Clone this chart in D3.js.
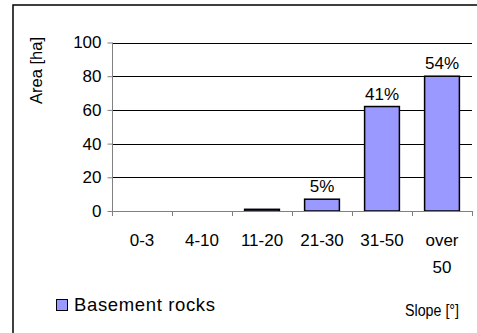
<!DOCTYPE html>
<html>
<head>
<meta charset="utf-8">
<script src="https://cdn.jsdelivr.net/npm/d3@7"></script>
<style>
html,body{margin:0;padding:0;background:#fff;}
svg{display:block;}
text{font-family:"Liberation Sans",Arial,sans-serif;fill:#000;}
</style>
</head>
<body>
<svg id="chart" width="477" height="333"></svg>
<script>
const categories = ["0-3", "4-10", "11-20", "21-30", "31-50", "over 50"];
const values = [0, 0, 1, 7, 62, 80];
const pctLabels = ["", "", "", "5%", "41%", "54%"];
const yTicks = [0, 20, 40, 60, 80, 100];
const seriesName = "Basement rocks";
const xTitle = "Slope [°]";
const yTitle = "Area [ha]";

const svg = d3.select("#chart");
const W = 477, H = 333;
const plot = {left: 112, right: 472, top: 42.5, bottom: 211};

// outer border
svg.append("rect").attr("x", 13).attr("y", 5).attr("width", W + 10).attr("height", H + 10)
  .attr("fill", "none").attr("stroke", "#000").attr("stroke-width", 1.5);

const x = d3.scaleBand().domain(categories).range([plot.left, plot.right]).paddingInner(0.42).paddingOuter(0.21);
const xEdge = d3.scaleBand().domain(categories).range([plot.left, plot.right]);
const y = d3.scaleLinear().domain([0, 100]).range([plot.bottom, plot.top]);

// gridlines
svg.append("g").selectAll("line").data(yTicks.filter(d => d > 0)).join("line")
  .attr("x1", plot.left).attr("x2", plot.right)
  .attr("y1", d => Math.round(y(d)) + 0.5).attr("y2", d => Math.round(y(d)) + 0.5)
  .attr("stroke", "#000").attr("stroke-width", 1);

// bars
svg.append("g").selectAll("rect").data(values).join("rect")
  .attr("x", (d, i) => x(categories[i]))
  .attr("width", x.bandwidth())
  .attr("y", d => y(d))
  .attr("height", d => plot.bottom - y(d))
  .attr("fill", "#9999FF").attr("stroke", "#000").attr("stroke-width", 1.5)
  .attr("display", d => d > 0 ? null : "none");

// y axis
const yAxis = d3.axisLeft(y).tickValues(yTicks).tickSize(5).tickPadding(6);
const gy = svg.append("g").attr("transform", `translate(${plot.left + 0.5},0)`).call(yAxis);
gy.select(".domain").attr("stroke", "#808080").attr("d", `M0,${plot.top}V${plot.bottom}`);
gy.selectAll(".tick line").attr("stroke", "#808080");
gy.selectAll(".tick text").attr("font-size", 17).attr("font-family", "Liberation Sans, Arial, sans-serif").attr("fill", "#000");

// x axis (ticks at band edges)
const edges = categories.map(c => xEdge(c)).concat([plot.right]);
const gx = svg.append("g");
gx.append("line").attr("x1", plot.left).attr("x2", plot.right)
  .attr("y1", plot.bottom + 0.5).attr("y2", plot.bottom + 0.5).attr("stroke", "#808080");
gx.selectAll("line.t").data(edges).join("line").attr("class", "t")
  .attr("x1", d => Math.round(d) + 0.5).attr("x2", d => Math.round(d) + 0.5)
  .attr("y1", plot.bottom).attr("y2", plot.bottom + 5).attr("stroke", "#808080");

// x labels
categories.forEach((c, i) => {
  const cx = xEdge(c) + xEdge.bandwidth() / 2;
  const parts = c === "over 50" ? ["over", "50"] : [c];
  const t = svg.append("text").attr("x", cx).attr("y", 246)
    .attr("text-anchor", "middle").attr("font-size", 17);
  parts.forEach((p, k) => t.append("tspan").attr("x", cx).attr("dy", k === 0 ? 0 : 27).text(p));
});

// data labels
svg.append("g").selectAll("text").data(values).join("text")
  .attr("x", (d, i) => x(categories[i]) + x.bandwidth() / 2)
  .attr("y", d => y(d) - 7)
  .attr("text-anchor", "middle").attr("font-size", 17)
  .text((d, i) => pctLabels[i]);

// y title
svg.append("text").attr("transform", `translate(42,70.5) rotate(-90)`)
  .attr("text-anchor", "middle").attr("font-size", 16.5).text(yTitle);

// legend
svg.append("rect").attr("x", 56.5).attr("y", 299.5).attr("width", 11).attr("height", 11)
  .attr("fill", "#9999FF").attr("stroke", "#000").attr("stroke-width", 1);
svg.append("text").attr("x", 74).attr("y", 311).attr("font-size", 18.5)
  .attr("textLength", 141).attr("lengthAdjust", "spacing").text(seriesName);

// x title
svg.append("text").attr("x", 405).attr("y", 316).attr("font-size", 16)
  .attr("textLength", 54).attr("lengthAdjust", "spacingAndGlyphs").text(xTitle);
</script>
</body>
</html>
